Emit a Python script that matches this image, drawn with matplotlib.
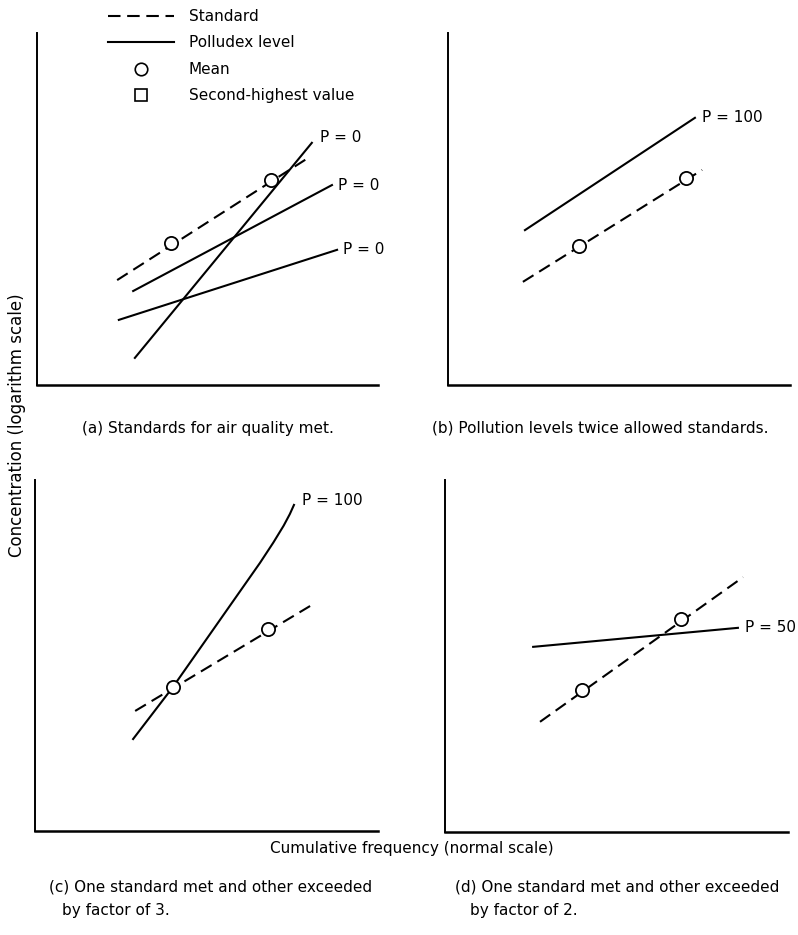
import matplotlib
matplotlib.use("Agg")
import matplotlib.pyplot as plt
from matplotlib.lines import Line2D

plt.rcParams['font.family'] = ['DejaVu Sans']

W, H = 798, 935

# ---------------- data (arbitrary schematic units, 0-100) ----------------
# Panel (a): standards for air quality met
a_std_x = [23.5, 79.5]
a_std_y = [29.8, 64.5]
a_mean_x = [39.3, 68.6]
a_mean_y = [40.3, 58.2]
a_pol_x = [[28.7, 80.6], [28.2, 86.5], [24.0, 88.0]]
a_pol_y = [[7.7, 68.8], [26.7, 56.8], [18.5, 38.4]]
a_lab_text = ["P = 0", "P = 0", "P = 0"]
a_lab_x = [83.0, 88.3, 89.7]
a_lab_y = [70.2, 56.8, 38.4]

# Panel (b): pollution levels twice allowed standards
b_std_x = [21.9, 74.3]
b_std_y = [29.3, 61.1]
b_mean_x = [38.3, 69.6]
b_mean_y = [39.5, 58.8]
b_pol_x = [[22.5, 72.2]]
b_pol_y = [[44.0, 75.9]]
b_lab_text = ["P = 100"]
b_lab_x = [74.3]
b_lab_y = [75.9]

# Panel (c): one standard met, other exceeded by factor of 3
c_std_x = [29.2, 80.2]
c_std_y = [34.2, 64.1]
c_mean_x = [40.2, 67.9]
c_mean_y = [41.0, 57.5]
c_pol_x = [[28.6, 40.2, 53.9, 65.6, 69.5, 72.5, 74.3, 75.5]]
c_pol_y = [[26.2, 41.0, 60.1, 76.4, 82.2, 87.0, 90.3, 92.9]]
c_lab_text = ["P = 100"]
c_lab_x = [77.8]
c_lab_y = [94.3]

# Panel (d): one standard met, other exceeded by factor of 2
d_std_x = [27.7, 86.9]
d_std_y = [31.3, 72.4]
d_mean_x = [39.9, 68.8]
d_mean_y = [40.3, 60.5]
d_pol_x = [[25.7, 85.4]]
d_pol_y = [[52.6, 58.0]]
d_lab_text = ["P = 50"]
d_lab_x = [87.5]
d_lab_y = [58.0]

captions = [
    ["(a) Standards for air quality met."],
    ["(b) Pollution levels twice allowed standards."],
    ["(c) One standard met and other exceeded", "by factor of 3."],
    ["(d) One standard met and other exceeded", "by factor of 2."],
]
legend_labels = ["Standard", "Polludex level", "Mean", "Second-highest value"]
ylabel = "Concentration (logarithm scale)"
xlabel = "Cumulative frequency (normal scale)"

# ---------------- layout ----------------
fig = plt.figure(figsize=(W / 100, H / 100), dpi=100)

# panel boxes in pixels: left, top, right, bottom
boxes = [(37, 33, 378, 385), (448, 33, 790, 385),
         (35, 480, 378, 831), (445, 480, 788, 832)]

panels = [
    (a_std_x, a_std_y, a_mean_x, a_mean_y, a_pol_x, a_pol_y, a_lab_text, a_lab_x, a_lab_y),
    (b_std_x, b_std_y, b_mean_x, b_mean_y, b_pol_x, b_pol_y, b_lab_text, b_lab_x, b_lab_y),
    (c_std_x, c_std_y, c_mean_x, c_mean_y, c_pol_x, c_pol_y, c_lab_text, c_lab_x, c_lab_y),
    (d_std_x, d_std_y, d_mean_x, d_mean_y, d_pol_x, d_pol_y, d_lab_text, d_lab_x, d_lab_y),
]

LW = 1.5
DASH = (6.0, 3.2)
FS = 11

for (l, t, r, b), pdata in zip(boxes, panels):
    ax = fig.add_axes([l / W, 1 - b / H, (r - l) / W, (b - t) / H])
    sx, sy, mx, my, px, py, lt, lx, ly = pdata
    ax.plot(sx, sy, color='black', lw=LW, linestyle=(0, DASH), solid_capstyle='butt')
    for xx, yy in zip(px, py):
        ax.plot(xx, yy, color='black', lw=LW, solid_joinstyle='round')
    ax.plot(mx, my, linestyle='none', marker='o', markersize=9.5,
            markerfacecolor='white', markeredgecolor='black', markeredgewidth=1.3, zorder=5)
    for txt, x, y in zip(lt, lx, ly):
        ax.text(x, y, txt, fontsize=FS, ha='left', va='center')
    ax.set_xlim(0, 100)
    ax.set_ylim(0, 100)
    ax.set_xticks([])
    ax.set_yticks([])
    for side in ('top', 'right'):
        ax.spines[side].set_visible(False)
    ax.spines['left'].set_linewidth(1.4)
    ax.spines['bottom'].set_linewidth(1.8)
    ax.patch.set_alpha(0)

# captions
cap_pos = [[(82, 428)], [(432, 428)], [(49, 887), (62, 910)], [(455, 887), (470, 910)]]
for lines, poss in zip(captions, cap_pos):
    for txt, (x, y) in zip(lines, poss):
        fig.text(x / W, 1 - y / H, txt, fontsize=FS, ha='left', va='center')

fig.text(17 / W, 1 - 425 / H, ylabel, rotation=90, fontsize=12, ha='center', va='center')
fig.text(412 / W, 1 - 848 / H, xlabel, fontsize=FS, ha='center', va='center')

# legend
handles = [
    Line2D([], [], color='black', lw=LW, linestyle=(0, DASH)),
    Line2D([], [], color='black', lw=LW),
    Line2D([], [], linestyle='none', marker='o', markersize=9, markerfacecolor='white',
           markeredgecolor='black', markeredgewidth=1.2),
    Line2D([], [], linestyle='none', marker='s', markersize=8.5, markerfacecolor='white',
           markeredgecolor='black', markeredgewidth=1.2),
]
fig.legend(handles, legend_labels, loc='upper left', bbox_to_anchor=(108 / W, 1 - 9 / H),
           frameon=False, handlelength=4.3, handletextpad=1.0, labelspacing=0.75,
           borderaxespad=0, borderpad=0, fontsize=FS)

fig.savefig("out.png", dpi=100)
